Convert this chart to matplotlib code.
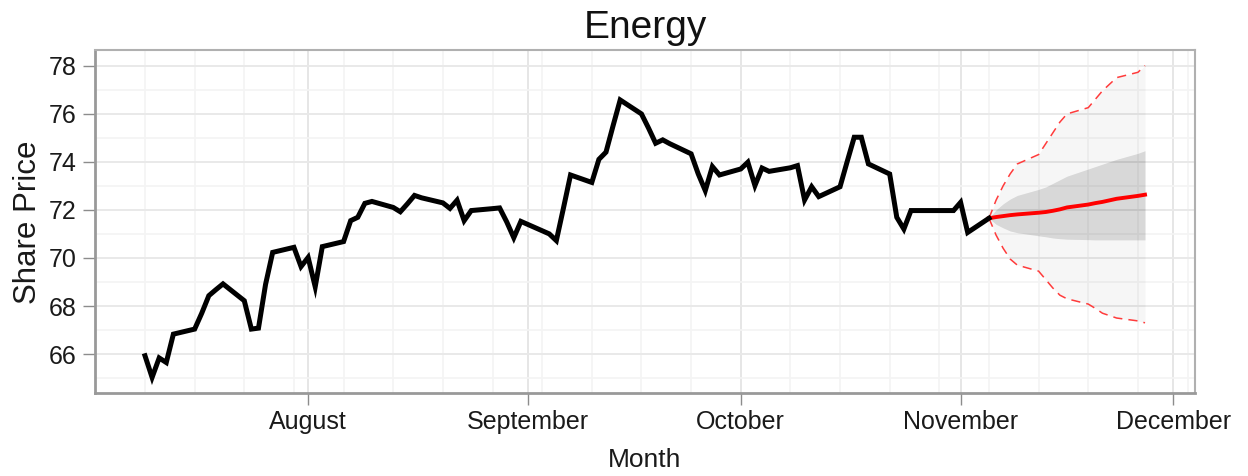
import numpy as np
import pandas as pd
import matplotlib
matplotlib.use("Agg")
import matplotlib.pyplot as plt
import matplotlib.dates as mdates

plt.rcParams['font.family'] = ['Liberation Sans', 'DejaVu Sans']

# closing prices, one per trading day (2012-07-09 .. 2012-11-05)
hist_dates = pd.bdate_range('2012-07-09', '2012-11-05', freq='C',
                            holidays=['2012-09-03', '2012-10-29', '2012-10-30'])
price_jul = [65.93, 65.03, 65.84, 65.65, 66.83, 67.04, 67.70, 68.43, 68.68, 68.92,
             68.22, 67.04, 67.08, 68.90, 70.23, 70.44, 69.64]
price_aug = [70.02, 68.80, 70.47, 70.68, 71.55, 71.69, 72.27, 72.35, 72.10, 71.92,
             72.25, 72.60, 72.50, 72.29, 72.06, 72.40, 71.55, 71.97, 72.05, 72.08,
             71.50, 70.84, 71.52]
price_sep = [71.00, 70.72, 72.07, 73.45, 73.14, 74.10, 74.40, 75.50, 76.57, 75.99,
             75.40, 74.77, 74.91, 74.75, 74.33, 73.50, 72.80, 73.80, 73.45]
price_oct = [73.70, 73.98, 73.01, 73.74, 73.60, 73.75, 73.84, 72.41, 72.96, 72.55,
             72.96, 74.00, 75.02, 75.02, 73.91, 73.49, 71.69, 71.20, 71.97, 71.97,
             71.97]
price_nov = [72.31, 71.06, 71.65]
prices = price_jul + price_aug + price_sep + price_oct + price_nov

# forecast horizon (starts at the last observed close)
fc_dates = pd.bdate_range('2012-11-05', '2012-11-27', freq='C', holidays=['2012-11-22'])
fc_mean = [71.65, 71.70, 71.74, 71.78, 71.81, 71.88, 71.91, 71.96, 72.02, 72.10,
           72.22, 72.28, 72.33, 72.46, 72.58, 72.63]
fc_hi80 = [71.65, 72.00, 72.25, 72.45, 72.60, 72.85, 72.95, 73.10, 73.25, 73.40,
           73.70, 73.80, 73.90, 74.10, 74.35, 74.46]
fc_lo80 = [71.65, 71.40, 71.25, 71.12, 71.05, 70.92, 70.88, 70.83, 70.80, 70.78,
           70.76, 70.75, 70.75, 70.75, 70.75, 70.75]
fc_hi95 = [71.65, 72.40, 73.00, 73.50, 73.91, 74.30, 74.75, 75.20, 75.65, 75.99,
           76.25, 76.60, 76.95, 77.50, 77.72, 78.00]
fc_lo95 = [71.65, 70.95, 70.40, 69.95, 69.70, 69.45, 69.10, 68.75, 68.45, 68.30,
           68.08, 67.90, 67.70, 67.50, 67.38, 67.30]

month_ticks = pd.to_datetime(['2012-08-01', '2012-09-01', '2012-10-01',
                              '2012-11-01', '2012-12-01'])
month_labels = ['August', 'September', 'October', 'November', 'December']
y_ticks = [66, 68, 70, 72, 74, 76, 78]

fig = plt.figure(figsize=(12.48, 4.76), dpi=100)
ax = fig.add_axes([95 / 1248, 1 - 393 / 476, 1100 / 1248, 343 / 476])

# limits like ggplot: data range + 5% each side
xd = mdates.date2num(list(hist_dates) + list(fc_dates))
xpad = 0.05 * (xd.max() - xd.min())
ax.set_xlim(xd.min() - xpad, xd.max() + xpad)
yall = prices + fc_hi95 + fc_lo95
ypad = 0.05 * (max(yall) - min(yall))
ax.set_ylim(min(yall) - ypad, max(yall) + ypad)

# grid
ax.set_axisbelow(True)
mondays = pd.date_range('2012-07-02', '2012-12-03', freq='W-MON')
for d in mondays:
    ax.axvline(d, color='#f4f4f4', lw=1.2, zorder=0)
for d in month_ticks:
    ax.axvline(d, color='#e6e6e6', lw=1.4, zorder=0)
for v in range(65, 79, 2):
    ax.axhline(v, color='#f4f4f4', lw=1.2, zorder=0)
for v in y_ticks:
    ax.axhline(v, color='#e9e9e9', lw=1.4, zorder=0)

# forecast intervals
ax.fill_between(fc_dates, fc_lo95, fc_hi95, color='black', alpha=0.035, lw=0, zorder=1)
ax.fill_between(fc_dates, fc_lo80, fc_hi80, color='black', alpha=0.12, lw=0, zorder=1)
ax.plot(fc_dates, fc_hi95, color='#ff3b3b', lw=1.1, ls=(0, (6, 4)), zorder=2)
ax.plot(fc_dates, fc_lo95, color='#ff3b3b', lw=1.1, ls=(0, (6, 4)), zorder=2)
ax.plot(fc_dates, fc_mean, color='#ff0000', lw=2.8, zorder=3)

ax.plot(hist_dates, prices, color='black', lw=3.6, solid_joinstyle='miter', zorder=4)

ax.set_xticks(month_ticks)
ax.set_xticklabels(month_labels)
ax.set_yticks(y_ticks)
ax.tick_params(axis='both', length=8.5, width=1.0, color='#8c8c8c',
               labelsize=18, labelcolor='#1a1a1a')
ax.tick_params(axis='x', pad=4)
ax.tick_params(axis='y', pad=5)

for side, sp in ax.spines.items():
    sp.set_color('#b0b0b0')
    sp.set_linewidth(1.5)
ax.spines['bottom'].set_color('#999999')
ax.spines['left'].set_color('#999999')
ax.spines['bottom'].set_linewidth(2.0)
ax.spines['left'].set_linewidth(2.0)

fig.text(645 / 1248, 1 - 28 / 476, 'Energy', ha='center', va='center',
         fontsize=28, color='#111111')
fig.text(645 / 1248, 1 - 460 / 476, 'Month', ha='center', va='center',
         fontsize=19, color='#1a1a1a')
fig.text(28 / 1248, 1 - 222 / 476, 'Share Price', ha='center', va='center',
         rotation=90, fontsize=22.5, color='#1a1a1a')

fig.savefig('out.png', dpi=100)
